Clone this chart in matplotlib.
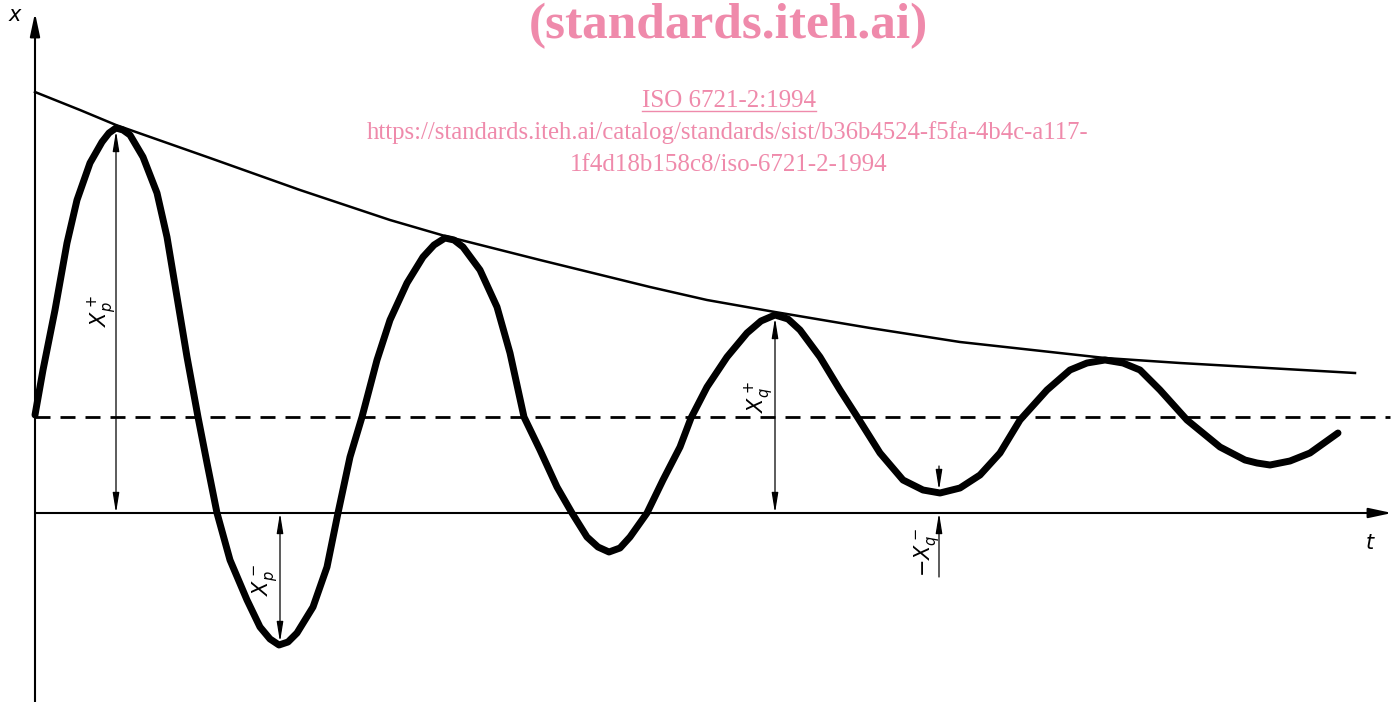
"""
阻尼振動示意圖 (ISO 6721-2 圖示)
x-t 曲線：衰減振盪、包絡線、平衡位置與振幅標註
"""

import matplotlib.pyplot as plt
from matplotlib.lines import Line2D

# ============================================
# 資料（由原圖讀取，單位：圖面長度）
# ============================================

# 振盪曲線
curve_t = [0, 8, 20, 32, 42, 55, 67, 74, 81, 88, 95, 108, 122, 132, 142, 152,
           163, 172, 182, 195, 212, 225, 235, 244, 253, 262, 278, 292, 303,
           315, 327, 342, 355, 372, 388, 399, 410, 419, 428, 445, 462, 475,
           489, 505, 522, 537, 552, 563, 574, 585, 595, 612, 628, 645, 656,
           672, 692, 712, 726, 740, 753, 765, 785, 805, 823, 845, 868, 888,
           905, 925, 945, 965, 985, 1012, 1035, 1052, 1070, 1088, 1105, 1125,
           1152, 1185, 1210, 1222, 1235, 1255, 1275, 1303]
curve_x = [98, 143, 203, 270, 313, 350, 371, 380, 385, 383, 378, 356, 320,
           276, 216, 156, 96, 50, 0, -47, -87, -114, -126, -132, -129, -120,
           -94, -54, 0, 56, 96, 153, 193, 230, 256, 268, 275, 273, 266, 243,
           206, 160, 96, 63, 26, 0, -24, -34, -39, -35, -24, 0, 33, 66, 95,
           126, 156, 180, 192, 198, 194, 183, 156, 123, 95, 60, 33, 23, 20,
           25, 38, 60, 93, 123, 143, 150, 153, 150, 143, 123, 93, 66, 53, 50,
           48, 52, 60, 80]

# 包絡線
env_t = [0, 45, 81, 175, 265, 355, 410, 505, 615, 672, 740, 835, 925, 1070,
         1145, 1320]
env_x = [421, 403, 388, 355, 323, 293, 277, 253, 226, 213, 201, 185, 171,
         155, 150, 140]

# 平衡位置（虛線）
mean_level = 96
mean_end = 1355

# 振幅標註：(t, 上端, 下端)
amp_t = [81, 245, 740]
amp_top = [382, 0, 195]
amp_bottom = [0, -129, 0]
amp_labels = [r'$X_p^+$', r'$X_p^-$', r'$X_q^+$']
amp_label_pos = [(68, 202), (230, -67), (725, 116)]

# -X_q^- 標註
q_minus_t = 904
q_minus_label = r'$-X_q^-$'

PINK = '#EF8AAB'


def draw_axes(ax):
    """座標軸（帶箭頭）"""
    ax.annotate('', xy=(1357, 0), xytext=(0, 0),
                arrowprops=dict(arrowstyle='-|>,head_length=0.7,head_width=0.15',
                                lw=1.5, color='black', mutation_scale=20,
                                shrinkA=0, shrinkB=0))
    ax.annotate('', xy=(0, 500), xytext=(0, -189),
                arrowprops=dict(arrowstyle='-|>,head_length=0.7,head_width=0.15',
                                lw=1.5, color='black', mutation_scale=20,
                                shrinkA=0, shrinkB=0))
    ax.text(-20, 498, 'x', fontsize=15, style='italic', ha='center', va='center')
    ax.text(1335, -30, 't', fontsize=15, style='italic', ha='center', va='center')


def draw_dimensions(ax):
    """振幅標註箭頭"""
    style = '<|-|>,head_length=0.8,head_width=0.13'
    for t, top, bot, lab, pos in zip(amp_t, amp_top, amp_bottom, amp_labels, amp_label_pos):
        ax.annotate('', xy=(t, top), xytext=(t, bot),
                    arrowprops=dict(arrowstyle=style, lw=0.9, color='black',
                                    mutation_scale=15, shrinkA=0, shrinkB=0))
        ax.text(pos[0], pos[1], lab, fontsize=15, rotation=90,
                ha='center', va='center')

    # -X_q^-：由外側指向內側
    single = '-|>,head_length=0.8,head_width=0.13'
    ax.annotate('', xy=(q_minus_t, 23), xytext=(q_minus_t, 47),
                arrowprops=dict(arrowstyle=single, lw=0.9, color='black',
                                mutation_scale=15, shrinkA=0, shrinkB=0))
    ax.annotate('', xy=(q_minus_t, 0), xytext=(q_minus_t, -64),
                arrowprops=dict(arrowstyle=single, lw=0.9, color='black',
                                mutation_scale=15, shrinkA=0, shrinkB=0))
    ax.text(892, -40, q_minus_label, fontsize=15, rotation=90,
            ha='center', va='center')


def draw_watermark(fig):
    """標準浮水印文字"""
    fig.text(728 / 1398, 1 - 38 / 702, '(standards.iteh.ai)', color=PINK,
             fontsize=37, fontweight='bold', family='Liberation Serif',
             ha='center', va='baseline')
    iso = fig.text(729 / 1398, 1 - 107 / 702, 'ISO 6721-2:1994', color=PINK,
                   fontsize=18, family='Liberation Serif',
                   ha='center', va='baseline')
    fig.text(728 / 1398, 1 - 139 / 702,
             'https://standards.iteh.ai/catalog/standards/sist/b36b4524-f5fa-4b4c-a117-',
             color=PINK, fontsize=17.8, family='Liberation Serif',
             ha='center', va='baseline')
    fig.text(729 / 1398, 1 - 171 / 702, '1f4d18b158c8/iso-6721-2-1994',
             color=PINK, fontsize=18, family='Liberation Serif',
             ha='center', va='baseline')

    # 底線
    fig.canvas.draw()
    bb = iso.get_window_extent().transformed(fig.transFigure.inverted())
    y_line = 1 - 111 / 702
    fig.add_artist(Line2D([bb.x0, bb.x1], [y_line, y_line], color=PINK, lw=1.0))


if __name__ == "__main__":
    fig = plt.figure(figsize=(13.98, 7.02), dpi=100)
    ax = fig.add_axes([0, 0, 1, 1])
    ax.set_xlim(-35, 1363)
    ax.set_ylim(-189, 513)
    ax.axis('off')

    draw_axes(ax)

    # 平衡位置
    ax.plot([0, mean_end], [mean_level, mean_level], color='black', lw=2,
            dashes=(5.4, 3.6))

    # 包絡線
    ax.plot(env_t, env_x, color='black', lw=1.8, solid_joinstyle='round')

    # 振盪曲線
    ax.plot(curve_t, curve_x, color='black', lw=5, solid_joinstyle='round',
            solid_capstyle='round')

    draw_dimensions(ax)
    draw_watermark(fig)

    fig.savefig('out.png', dpi=100)
    plt.close(fig)
